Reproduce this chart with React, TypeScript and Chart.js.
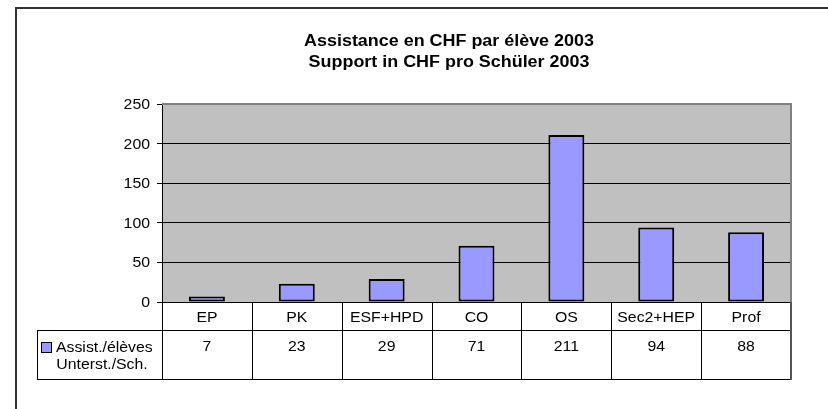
import React, { useEffect, useRef } from "react";
import { Chart, registerables } from "chart.js";

Chart.register(...registerables);

const categories = ["EP", "PK", "ESF+HPD", "CO", "OS", "Sec2+HEP", "Prof"];
const values = [7, 23, 29, 71, 211, 94, 88];
const seriesLabel = ["Assist./élèves", "Unterst./Sch."];
const titleLines = ["Assistance en CHF par élève 2003", "Support in CHF pro Schüler 2003"];
const yMax = 250;
const yStep = 50;

const FONT = '"Liberation Sans", Arial, sans-serif';
const SX = 1.13;
const TXT = "14px " + FONT;
const BAR_FILL = "#9999FF";

function stretchText(
  ctx: CanvasRenderingContext2D,
  text: string,
  x: number,
  y: number,
  font: string,
  align: CanvasTextAlign,
  sx: number
) {
  ctx.save();
  ctx.font = font;
  ctx.textAlign = align;
  ctx.textBaseline = "alphabetic";
  ctx.fillStyle = "#000";
  ctx.translate(x, y);
  ctx.scale(sx, 1);
  ctx.fillText(text, 0, 0);
  ctx.restore();
}

function line(ctx: CanvasRenderingContext2D, x1: number, y1: number, x2: number, y2: number, color: string, w: number) {
  ctx.save();
  ctx.strokeStyle = color;
  ctx.lineWidth = w;
  ctx.beginPath();
  ctx.moveTo(x1, y1);
  ctx.lineTo(x2, y2);
  ctx.stroke();
  ctx.restore();
}

const decorPlugin = {
  id: "decor",
  beforeDraw(chart: any) {
    const ctx: CanvasRenderingContext2D = chart.ctx;
    const ca = chart.chartArea;
    ctx.save();
    ctx.fillStyle = "#fff";
    ctx.fillRect(0, 0, chart.width, chart.height);
    // outer frame
    line(ctx, 16, 8, 16, chart.height + 2, "#333", 2);
    line(ctx, 15, 8, chart.width + 2, 8, "#333", 2);
    // plot background
    ctx.fillStyle = "#C0C0C0";
    ctx.fillRect(ca.left, ca.top, ca.right - ca.left, ca.bottom - ca.top);
    ctx.restore();
    // title
    const cx = 449;
    stretchText(ctx, titleLines[0], cx, 45.5, "bold 16px " + FONT, "center", 1.12);
    stretchText(ctx, titleLines[1], cx, 67, "bold 16px " + FONT, "center", 1.12);
  },
  afterDatasetsDraw(chart: any) {
    const ctx: CanvasRenderingContext2D = chart.ctx;
    const ca = chart.chartArea;
    const xs = chart.scales.x;
    const ys = chart.scales.y;
    const n = categories.length;
    const colW = (ca.right - ca.left) / n;

    // plot border (top / right)
    line(ctx, ca.left, ca.top, ca.right + 1, ca.top, "#808080", 2);
    line(ctx, ca.right, ca.top, ca.right, ca.bottom, "#808080", 2);

    // y tick labels
    ys.ticks.forEach((t: any) => {
      const py = ys.getPixelForValue(t.value);
      stretchText(ctx, String(t.value), 150, py + 5, TXT, "right", SX);
    });

    // data table
    const headerTop = ca.bottom;
    const headerBottom = ca.bottom + 28;
    const tableBottom = ca.bottom + 77;
    const legendLeft = 37;

    line(ctx, ca.left - 5, headerTop + 0.5, ca.right, headerTop + 0.5, "#000", 1);
    line(ctx, legendLeft, headerBottom + 0.5, ca.right, headerBottom + 0.5, "#000", 1);
    line(ctx, legendLeft, tableBottom + 0.5, ca.right, tableBottom + 0.5, "#000", 1);
    line(ctx, legendLeft + 0.5, headerBottom, legendLeft + 0.5, tableBottom + 1, "#000", 1);

    for (let i = 0; i <= n; i++) {
      const bx = i < n ? xs.getPixelForValue(i) - colW / 2 : xs.getPixelForValue(n - 1) + colW / 2;
      const px = Math.round(bx) + (i === n ? 0 : 0.5);
      line(ctx, px, headerTop, px, tableBottom + 1, i === n ? "#555" : "#000", i === n ? 2 : 1);
    }

    categories.forEach((c, i) => {
      const px = xs.getPixelForValue(i);
      stretchText(ctx, c, px, headerTop + 19.5, TXT, "center", SX);
      stretchText(ctx, String(values[i]), px, headerBottom + 20.5, TXT, "center", SX);
    });

    // legend key
    ctx.save();
    ctx.fillStyle = BAR_FILL;
    ctx.fillRect(41, headerBottom + 12, 10, 10);
    ctx.strokeStyle = "#000";
    ctx.lineWidth = 1;
    ctx.strokeRect(41.5, headerBottom + 12.5, 10, 10);
    ctx.restore();
    stretchText(ctx, seriesLabel[0], 56, headerBottom + 22, TXT, "left", SX);
    stretchText(ctx, seriesLabel[1], 102, headerBottom + 38.5, TXT, "center", SX);
  },
};

export default function App() {
  const ref = useRef<HTMLCanvasElement | null>(null);

  useEffect(() => {
    document.body.style.margin = "0";
    const canvas = ref.current;
    if (!canvas) return;
    const chart = new Chart(canvas, {
      type: "bar",
      data: {
        labels: categories,
        datasets: [
          {
            label: seriesLabel.join(" "),
            data: values,
            backgroundColor: BAR_FILL,
            borderColor: "#000",
            borderWidth: 2,
            borderSkipped: false,
            categoryPercentage: 1,
            barPercentage: 0.4,
          },
        ],
      },
      options: {
        responsive: false,
        animation: false,
        devicePixelRatio: 1,
        layout: { padding: { top: 104, left: 0, right: 37, bottom: 107 } },
        plugins: {
          legend: { display: false },
          title: { display: false },
          tooltip: { enabled: false },
        },
        scales: {
          x: { display: false },
          y: {
            min: 0,
            max: yMax,
            afterFit: (s: any) => {
              s.width = 162;
            },
            ticks: { stepSize: yStep, display: false },
            grid: {
              color: (c: any) => (c.tick && c.tick.value === yMax ? "#808080" : "#000"),
              tickColor: "#000",
              tickLength: 5,
              lineWidth: 1,
            },
            border: { display: true, color: "#000", width: 1 },
          },
        },
      },
      plugins: [decorPlugin],
    });
    return () => chart.destroy();
  }, []);

  return <canvas ref={ref} width={828} height={409} style={{ display: "block" }} />;
}
